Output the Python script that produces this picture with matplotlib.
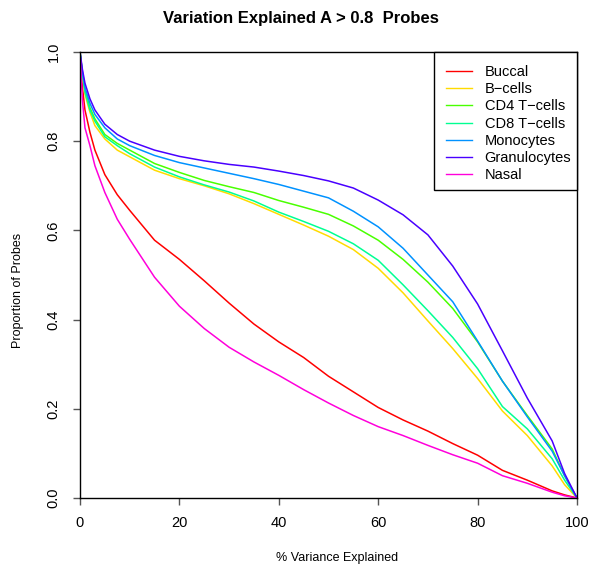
import matplotlib.pyplot as plt
from matplotlib.patches import Rectangle
import numpy as np

plt.rcParams['font.family'] = ['Liberation Sans', 'DejaVu Sans']

# % variance explained (x) and proportion of probes (y) per tissue
pct = [0, 0.5, 1, 2, 3, 5, 7.5, 10, 15, 20, 25, 30, 35, 40, 45, 50,
       55, 60, 65, 70, 75, 80, 85, 90, 95, 97.5, 100]

buccal = [1.0, 0.92, 0.87, 0.82, 0.78, 0.725, 0.68, 0.645, 0.578, 0.535, 0.487,
          0.437, 0.39, 0.35, 0.315, 0.273, 0.238, 0.203, 0.175, 0.15, 0.122,
          0.096, 0.062, 0.04, 0.016, 0.007, 0.0]
bcells = [1.0, 0.945, 0.905, 0.865, 0.835, 0.805, 0.78, 0.765, 0.735, 0.716, 0.70,
          0.682, 0.66, 0.636, 0.612, 0.587, 0.557, 0.515, 0.46, 0.397, 0.335,
          0.268, 0.195, 0.14, 0.072, 0.03, 0.0]
cd4 = [1.0, 0.95, 0.915, 0.875, 0.85, 0.815, 0.795, 0.78, 0.75, 0.73, 0.712,
       0.698, 0.685, 0.667, 0.652, 0.636, 0.61, 0.578, 0.535, 0.484, 0.425,
       0.35, 0.262, 0.185, 0.11, 0.05, 0.0]
cd8 = [1.0, 0.95, 0.91, 0.87, 0.845, 0.81, 0.79, 0.772, 0.742, 0.72, 0.702,
       0.686, 0.666, 0.641, 0.62, 0.598, 0.57, 0.533, 0.478, 0.42, 0.36,
       0.29, 0.205, 0.155, 0.088, 0.04, 0.0]
mono = [1.0, 0.955, 0.92, 0.885, 0.86, 0.83, 0.805, 0.79, 0.768, 0.752, 0.74,
        0.728, 0.716, 0.703, 0.688, 0.673, 0.643, 0.608, 0.56, 0.50, 0.44,
        0.352, 0.262, 0.182, 0.105, 0.05, 0.0]
gran = [1.0, 0.96, 0.93, 0.895, 0.87, 0.838, 0.815, 0.80, 0.78, 0.766, 0.756,
        0.748, 0.742, 0.733, 0.723, 0.711, 0.695, 0.668, 0.635, 0.59, 0.52,
        0.435, 0.33, 0.224, 0.128, 0.055, 0.0]
nasal = [1.0, 0.89, 0.83, 0.79, 0.745, 0.685, 0.625, 0.58, 0.495, 0.43, 0.38,
         0.338, 0.305, 0.275, 0.243, 0.213, 0.185, 0.16, 0.14, 0.118, 0.097,
         0.078, 0.05, 0.033, 0.013, 0.005, 0.0]

names = ['Buccal', 'B\u2212cells', 'CD4 T\u2212cells', 'CD8 T\u2212cells',
         'Monocytes', 'Granulocytes', 'Nasal']
series = [buccal, bcells, cd4, cd8, mono, gran, nasal]
# rainbow(7)
colors = ['#FF0000', '#FFDB00', '#49FF00', '#00FF92', '#0092FF', '#4900FF', '#FF00DB']

W, H = 590, 566
fig = plt.figure(figsize=(5.9, 5.66), dpi=100)
ax = fig.add_axes([80/W, 1-498/H, (577-80)/W, (498-52)/H])

for vals, name, col in zip(series, names, colors):
    ax.plot(pct, vals, color=col, lw=1.1, label=name)

ax.set_xlim(0, 100)
ax.set_ylim(0, 1)
ax.set_xticks([0, 20, 40, 60, 80, 100])
ax.set_yticks([0, 0.2, 0.4, 0.6, 0.8, 1.0])
ax.set_yticklabels(['0.0', '0.2', '0.4', '0.6', '0.8', '1.0'])
ax.tick_params(length=5, width=1, color='#555555', labelsize=10.5)
ax.tick_params(axis='x', pad=8)
ax.tick_params(axis='y', pad=9)
for lbl in ax.get_yticklabels():
    lbl.set_rotation(90)
    lbl.set_va('center')
for s in ax.spines.values():
    s.set_linewidth(1.0)

# R-style legend box (padding is not symmetric, so draw the frame by hand)
box = Rectangle((434/W, 1-190/H), (577-434)/W, (190-52)/H, transform=fig.transFigure,
                facecolor='white', edgecolor='black', lw=1.0, zorder=4)
ax.add_artist(box)
box.set_clip_on(False)
leg = ax.legend(loc='upper left', bbox_to_anchor=(446/W, 1-65/H),
                bbox_transform=fig.transFigure, borderaxespad=0, borderpad=0,
                frameon=False, fontsize=10.5, handlelength=1.8,
                labelspacing=0.22, handletextpad=0.85)
leg.set_zorder(5)
for h in leg.get_lines():
    h.set_linewidth(1.0)

fig.text(301/W, 1-18/H, 'Variation Explained A > 0.8  Probes', ha='center',
         va='center', fontsize=12, fontweight='bold')
fig.text(337/W, 1-558/H, '% Variance Explained', ha='center', va='center', fontsize=9)
fig.text(18/W, 1-290/H, 'Proportion of Probes', ha='center', va='center',
         rotation=90, fontsize=9)

fig.savefig('out.png', dpi=100)
